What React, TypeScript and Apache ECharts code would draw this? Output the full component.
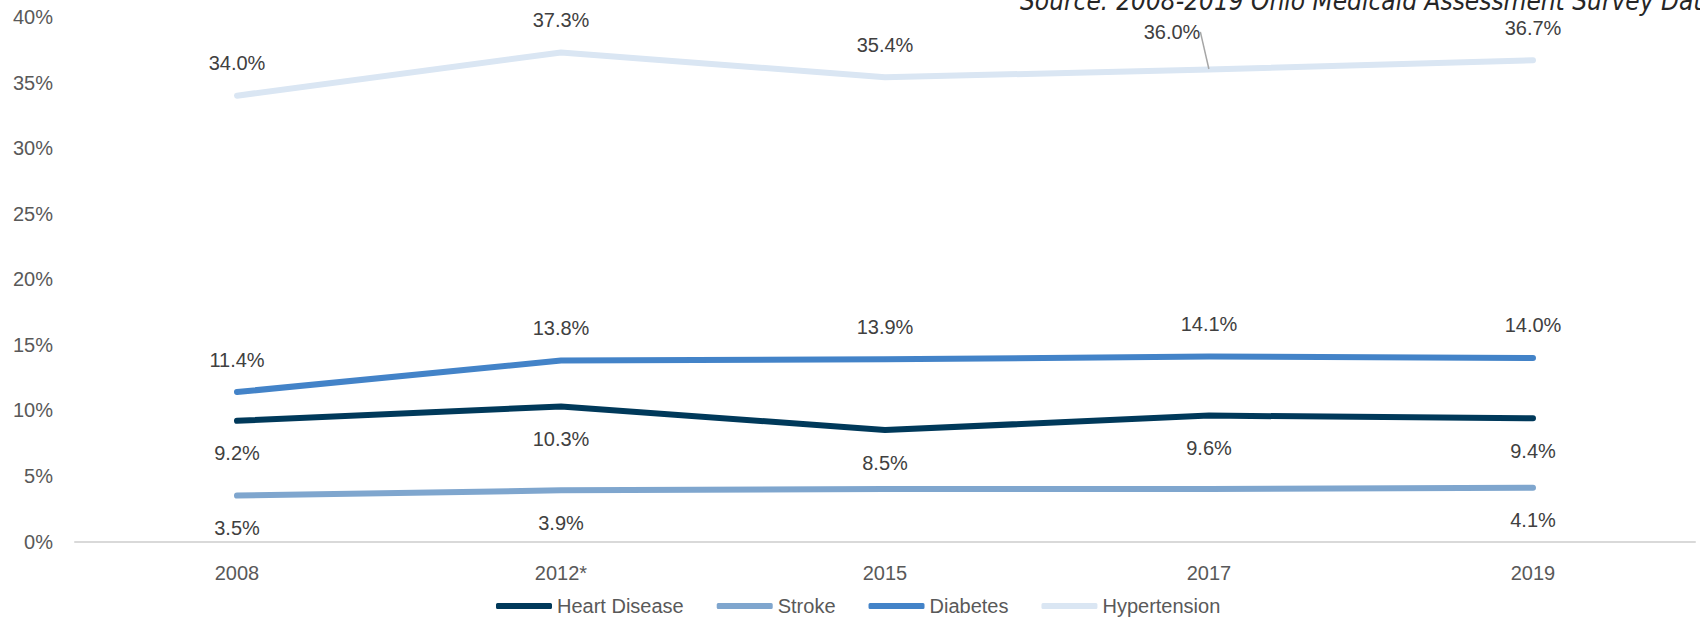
import React, { useEffect, useRef } from "react";
import * as echarts from "echarts";

const years = ["2008", "2012*", "2015", "2017", "2019"];
const heartDisease = [9.2, 10.3, 8.5, 9.6, 9.4];
const stroke = [3.5, 3.9, 4.0, 4.0, 4.1];
const diabetes = [11.4, 13.8, 13.9, 14.1, 14.0];
const hypertension = [34.0, 37.3, 35.4, 36.0, 36.7];
const strokeLabelShown = [true, true, false, false, true];
const sourceText = "Source: 2008-2019 Ohio Medicaid Assessment Survey Data";

const FONT = "'Liberation Sans', Arial, sans-serif";
const NARROW = "'Liberation Sans Narrow', 'DejaVu Sans Condensed', 'Liberation Sans', sans-serif";

function makeSeries(
  name: string,
  data: number[],
  color: string,
  position: "top" | "bottom",
  shown?: boolean[],
  leaderIndex?: number
) {
  return {
    name,
    type: "line",
    data: data.map((v, i) => ({
      value: v,
      label: { show: shown ? shown[i] : true },
      labelLine: { show: i === leaderIndex },
    })),
    showSymbol: true,
    symbol: "circle",
    symbolSize: 1,
    itemStyle: { color },
    lineStyle: { color, width: 6, cap: "round", join: "round" },
    label: {
      show: true,
      position,
      distance: 22,
      color: "#404040",
      fontSize: 20,
      fontFamily: FONT,
      formatter: (p: any) => Number(p.value).toFixed(1) + "%",
    },
    labelLine: { show: false, lineStyle: { color: "#A6A6A6", width: 1.5 } },
    emphasis: { disabled: true },
  };
}

export default function App() {
  const ref = useRef<HTMLDivElement>(null);
  useEffect(() => {
    document.body.style.margin = "0";
    const chart = echarts.init(ref.current!, null, { renderer: "svg" });
    const hyper: any = makeSeries("Hypertension", hypertension, "#DAE6F3", "top", undefined, 3);
    hyper.labelLayout = (params: any) =>
      params.dataIndex === 3 ? { dx: -37, dy: -5 } : {};
    chart.setOption({
      animation: false,
      grid: { left: 75, right: 5, top: 17, bottom: 75.5 },
      legend: {
        left: 491,
        top: 590,
        icon: "roundRect",
        itemWidth: 56,
        itemHeight: 6,
        itemGap: 33,
        textStyle: { color: "#595959", fontSize: 20, fontFamily: FONT, lineHeight: 22 },
        data: ["Heart Disease", "Stroke", "Diabetes", "Hypertension"],
      },
      graphic: [
        {
          type: "text",
          x: 1020,
          y: -12,
          silent: true,
          style: {
            text: sourceText,
            fontSize: 26,
            fontStyle: "italic",
            fontFamily: NARROW,
            fill: "#262626",
          },
        },
      ],
      xAxis: {
        type: "category",
        data: years,
        boundaryGap: true,
        axisLine: { lineStyle: { color: "#D9D9D9", width: 2 } },
        axisTick: { show: false },
        axisLabel: { color: "#595959", fontSize: 20, fontFamily: FONT, margin: 21 },
      },
      yAxis: {
        type: "value",
        min: 0,
        max: 40,
        interval: 5,
        axisLine: { show: false },
        axisTick: { show: false },
        splitLine: { show: false },
        axisLabel: {
          color: "#595959",
          fontSize: 20,
          fontFamily: FONT,
          margin: 22,
          formatter: "{value}%",
        },
      },
      series: [
        makeSeries("Heart Disease", heartDisease, "#00395A", "bottom"),
        makeSeries("Stroke", stroke, "#7FA6CE", "bottom", strokeLabelShown),
        makeSeries("Diabetes", diabetes, "#4383C8", "top"),
        hyper,
      ],
    });
    return () => chart.dispose();
  }, []);
  return <div ref={ref} style={{ width: 1700, height: 617 }} />;
}
